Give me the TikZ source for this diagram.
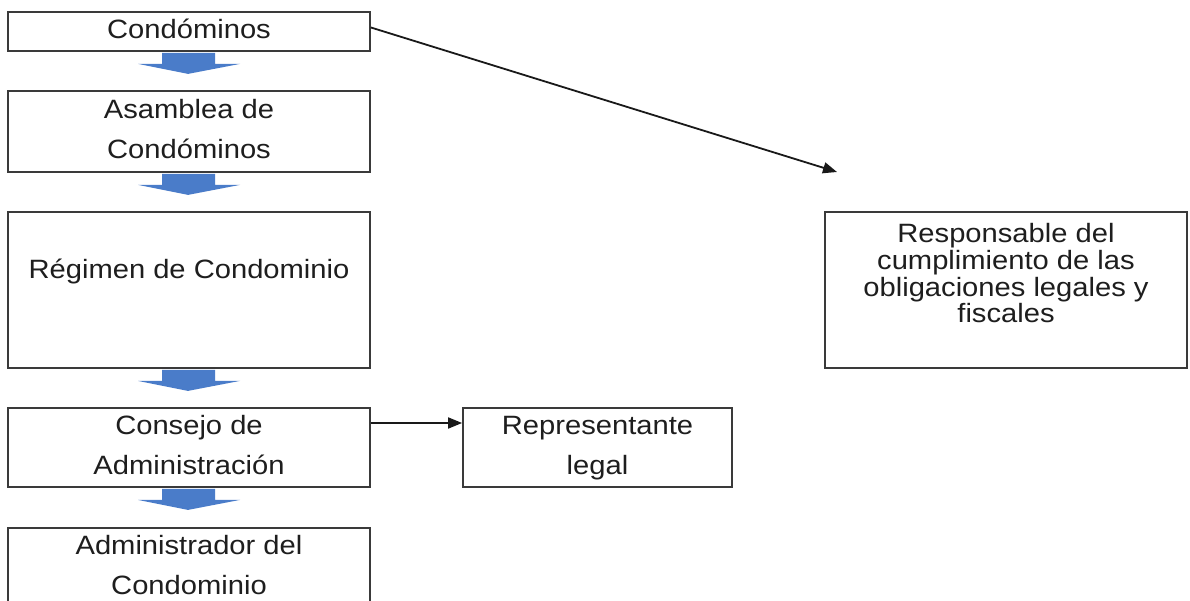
\documentclass[tikz,border=0pt]{standalone}
\usepackage{fontspec}
\setmainfont{Liberation Sans}[FakeStretch=1.1]
\usetikzlibrary{calc,arrows.meta}
\definecolor{boxline}{HTML}{3A3A3A}
\definecolor{blkblue}{HTML}{4A7CC9}
\definecolor{txtcol}{HTML}{1E1E1E}
\newcommand\lnst{\rule[-6.6pt]{0pt}{26.6pt}}
\tikzset{
  box/.style={draw=boxline, line width=1.8pt, minimum width=362pt, inner sep=0pt, text=txtcol,
    font=\fontsize{26.5}{40}\selectfont, align=center},
  lbl/.style={inner sep=0pt, text=txtcol, font=\fontsize{26.5}{40}\selectfont, align=center},
  conn/.style={draw=black!90, line width=1.8pt, -{Triangle[length=14pt,width=11pt]}},
  blk/.style={fill=blkblue}
}
\newcommand\blkarrow[1]{%
  \fill[blk] ($(#1.south)+(-27,1)$) -- ($(#1.south)+(26,1)$) -- ($(#1.south)+(26,12)$)
    -- ($(#1.south)+(51,12)$) -- ($(#1.south)+(-1,22)$) -- ($(#1.south)+(-51,12)$)
    -- ($(#1.south)+(-27,12)$) -- cycle;}
\begin{document}
\begin{tikzpicture}[x=1pt,y=-1pt]
\useasboundingbox (0,0) rectangle (1190,601);
\clip (0,0) rectangle (1190,601);
\fill[white] (0,0) rectangle (1190,601);
\node[box, minimum height=39pt] (b1) at (189,31.5) {\lnst Condóminos};
\node[box, minimum height=81pt] (b2) at (189,131.5) {\lnst Asamblea de\\\lnst Condóminos};
\node[box, minimum height=156pt] (b3) at (189,290) {};
\node[lbl] (b3t) at (189,271.5) {\lnst Régimen de Condominio};
\node[box, minimum height=79pt] (b4) at (189,447.5) {\lnst Consejo de\\\lnst Administración};
\node[box, minimum height=79pt] (b5) at (189,567.5) {\lnst Administrador del\\\lnst Condominio};
\node[box, minimum width=269pt, minimum height=79pt] (rep) at (597.5,447.5) {\lnst Representante\\\lnst legal};
\node[box, minimum height=156pt] (resp) at (1006,290) {};
\node[lbl, font=\fontsize{26.5}{26.7}\selectfont] (respt) at (1006,276) {\lnst Responsable del\\\lnst cumplimiento de las\\\lnst obligaciones legales y\\\lnst fiscales};
\blkarrow{b1}
\blkarrow{b2}
\blkarrow{b3}
\blkarrow{b4}
\coordinate (tip1) at (837,172);
\draw[conn] ($(b1.east)+(0,-4)$) -- (tip1);
\draw[conn] ($(b4.east)+(0,-24.5)$) -- ($(rep.west)+(0,-24.5)$);
\end{tikzpicture}
\end{document}
